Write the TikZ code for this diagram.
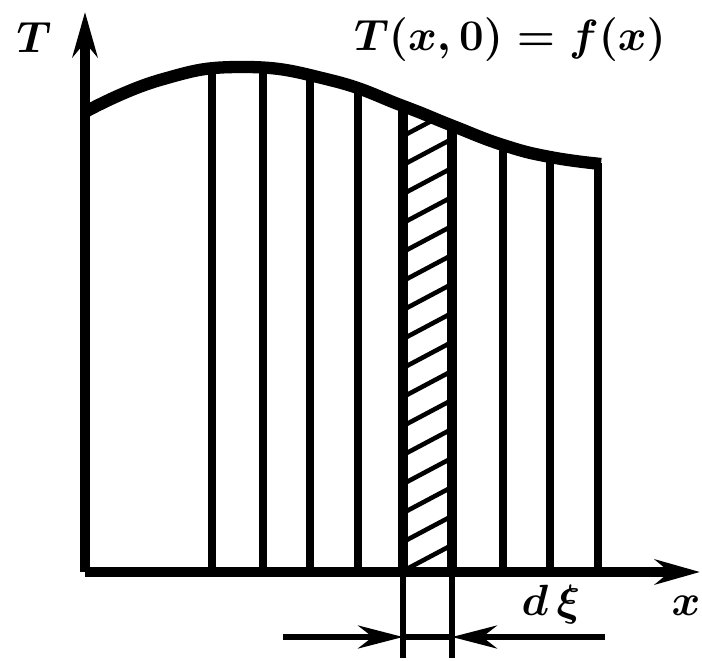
\documentclass[tikz,border=0pt]{standalone}
\usepackage{amsmath,bm}
\usepackage{tikz}
\usetikzlibrary{arrows.meta,positioning,calc}

\begin{document}
\begin{tikzpicture}[x=0.02cm,y=-0.02cm,
  axis/.style={line width=6pt,-{Stealth[length=9mm,width=5mm]}},
  strip/.style={line width=4pt},
  edge/.style={line width=6pt},
  hatch/.style={line width=2.6pt},
  dim/.style={line width=3.2pt},
  dimarrow/.style={dim,-{Stealth[length=9mm,width=4.6mm]}},
  lbl/.style={font=\fontsize{28}{32}\selectfont\boldmath}]
  \useasboundingbox (0,0) rectangle (702,661);
  % axes
  \coordinate (O) at (85,572);
  \coordinate (ytip) at (85,12);
  \coordinate (xtip) at (700,572);
  \draw[axis] (O) -- (ytip);
  \draw[axis] (O) -- (xtip);
  \node[lbl] (Tlab) at (34,38) {$T$};
  \node[lbl] (xlab) at (686,606) {$x$};
  % slices under the initial profile
  \begin{scope}
    \clip (O) -- plot[smooth,tension=0.8] coordinates {(85,112) (160,80) (243,67) (330,80) (403,106) (453,126) (503,145) (550,157) (601,164)} -- (601,572) -- cycle;
    \foreach \x in {212,263,310,358,503,550}{ \draw[strip] (\x,572) -- (\x,30);}
    \foreach \x in {403,452}{ \draw[edge] (\x,572) -- (\x,30);}
    % hatched slice d xi
    \begin{scope}
      \clip (403,572) rectangle (452,30);
      \foreach \k in {0,...,20}{ \draw[hatch] (403,600-29*\k) -- ++(49,-26);}
    \end{scope}
  \end{scope}
  \draw[strip] (598,572) -- (598,163);
  % initial temperature T(x,0)
  \draw[line width=7pt] plot[smooth,tension=0.8] coordinates {(85,112) (160,80) (243,67) (330,80) (403,106) (453,126) (503,145) (550,157) (601,164)};
  \node[lbl] (flab) at (510,40) {$T(x,0)=f(x)$};
  % width of the slice
  \coordinate (sL) at (403,637);
  \coordinate (sR) at (452,637);
  \coordinate (dL) at (283,637);
  \coordinate (dR) at (605,637);
  \draw[dim] (403,572) -- (403,658);
  \draw[dim] (452,572) -- (452,658);
  \draw[dimarrow] (dL) -- (sL);
  \draw[dimarrow] (dR) -- (sR);
  \draw[dim] (sL) -- (sR);
  \node[lbl] (dxi) at (551,605) {$d\,\xi$};
\end{tikzpicture}
\end{document}
